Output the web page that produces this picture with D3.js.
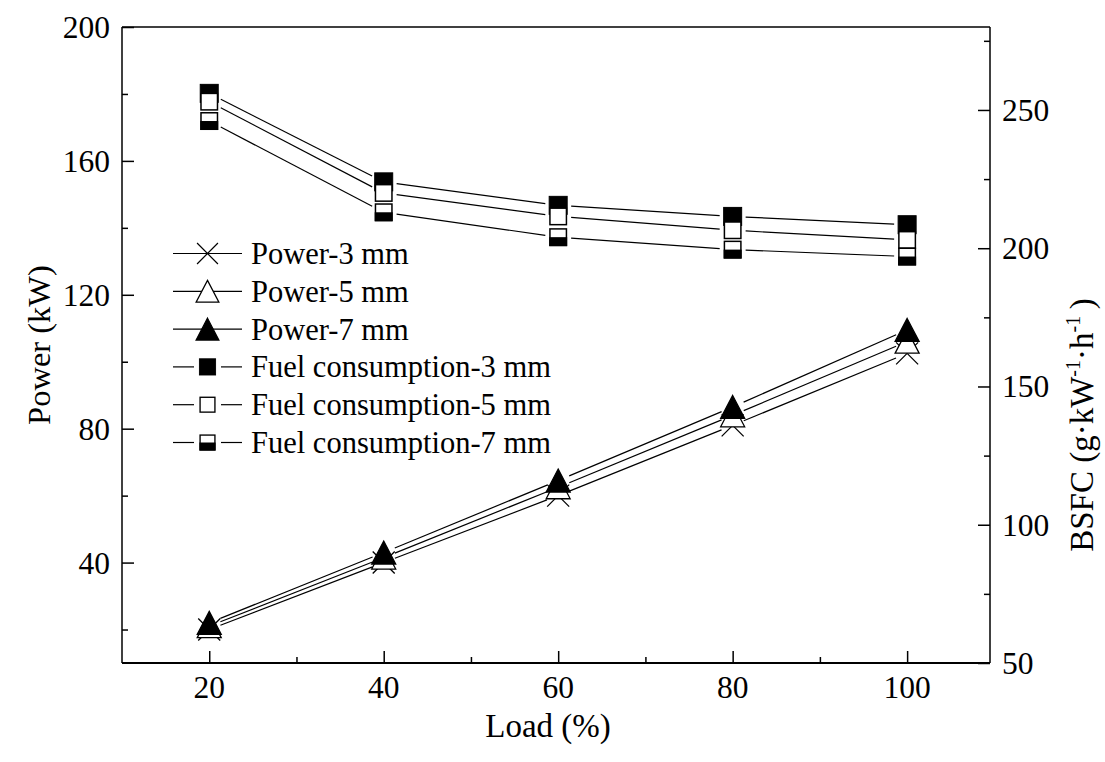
<!DOCTYPE html>
<html><head><meta charset="utf-8">
<script src="https://cdn.jsdelivr.net/npm/d3@7"></script>
<style>body{margin:0;background:#fff}svg{display:block}text{font-family:"Liberation Serif","Times New Roman",serif;fill:#000}</style>
</head><body>
<svg id="c" width="1105" height="762"></svg>
<script>
const loads = [20, 40, 60, 80, 100];
const power3 = [20, 40, 60, 81, 102.5];
const power5 = [21, 41.5, 62.5, 84, 106];
const power7 = [22, 43, 64.5, 86.5, 109.5];
const fuel3 = [256, 224, 215.5, 211.5, 208.5];
const fuel5 = [253, 220, 211.5, 206.5, 203];
const fuel7 = [246, 213, 204, 199.5, 197];
const xTicks = [20, 40, 60, 80, 100];
const yLeftTicks = [40, 80, 120, 160, 200];
const yRightTicks = [50, 100, 150, 200, 250];
const seriesNames = ["Power-3 mm","Power-5 mm","Power-7 mm","Fuel consumption-3 mm","Fuel consumption-5 mm","Fuel consumption-7 mm"];

const L = 122, R = 990, T = 27, B = 663;
const svg = d3.select("#c");
const x = d3.scaleLinear().domain([10, 109.5]).range([L, R]);
const yL = d3.scaleLinear().domain([10, 200]).range([B, T]);
const yR = d3.scaleLinear().domain([50, 280]).range([B, T]);
const FS = 31.5, FL = 30.5, FT = 33;

const series = [
  {vals: power3, y: yL, m: "cross", gap: 12},
  {vals: power5, y: yL, m: "triOpen", gap: 12},
  {vals: power7, y: yL, m: "triFill", gap: 12},
  {vals: fuel3, y: yR, m: "sqFill", gap: 13},
  {vals: fuel5, y: yR, m: "sqOpen", gap: 13},
  {vals: fuel7, y: yR, m: "sqHalf", gap: 13}
];

function drawMarker(g, type, cx, cy) {
  const s = g.append("g").attr("transform", `translate(${cx},${cy})`);
  if (type === "cross") {
    s.append("path").attr("d", "M-11,-11L11,11M-11,11L11,-11").attr("stroke", "#000").attr("stroke-width", 1.3).attr("fill", "none");
  } else if (type === "triOpen" || type === "triFill") {
    s.append("path").attr("d", "M0,-11.5L12,11.5L-12,11.5Z")
      .attr("fill", type === "triFill" ? "#000" : "#fff").attr("stroke", "#000").attr("stroke-width", 1.3);
  } else if (type === "sqFill") {
    s.append("rect").attr("x", -9).attr("y", -9).attr("width", 18).attr("height", 18).attr("fill", "#000").attr("stroke", "#000").attr("stroke-width", 1);
  } else if (type === "sqOpen") {
    s.append("rect").attr("x", -8.25).attr("y", -8.25).attr("width", 16.5).attr("height", 16.5).attr("fill", "#fff").attr("stroke", "#000").attr("stroke-width", 1.5);
  } else if (type === "sqHalf") {
    s.append("rect").attr("x", -9).attr("y", 0).attr("width", 18).attr("height", 9).attr("fill", "#000");
    s.append("rect").attr("x", -8.25).attr("y", -8.25).attr("width", 16.5).attr("height", 16.5).attr("fill", "none").attr("stroke", "#000").attr("stroke-width", 1.5);
  }
}

function stext(g, str, tx, ty, anchor, fs) {
  return g.append("text").attr("x", tx).attr("y", ty)
    .attr("text-anchor", anchor).attr("font-size", fs).text(str);
}

// frame
const fr = svg.append("g").attr("stroke", "#000").attr("fill", "none");
fr.append("line").attr("x1", L).attr("x2", R).attr("y1", T).attr("y2", T).attr("stroke-width", 1.5);
fr.append("line").attr("x1", L).attr("x2", R).attr("y1", B).attr("y2", B).attr("stroke-width", 2);
fr.append("line").attr("x1", L).attr("x2", L).attr("y1", T).attr("y2", B).attr("stroke-width", 1.5);
fr.append("line").attr("x1", R).attr("x2", R).attr("y1", T).attr("y2", B).attr("stroke-width", 1.5);

// axes (ticks inward)
svg.append("g").attr("transform", `translate(0,${B})`)
  .call(d3.axisBottom(x).tickValues(xTicks).tickSize(-12).tickFormat(""));
svg.append("g").attr("transform", `translate(0,${B})`)
  .call(d3.axisBottom(x).tickValues([30, 50, 70, 90]).tickSize(-6).tickFormat(""));
svg.append("g").attr("transform", `translate(${L},0)`)
  .call(d3.axisLeft(yL).tickValues(yLeftTicks).tickSize(-12).tickFormat(""));
svg.append("g").attr("transform", `translate(${L},0)`)
  .call(d3.axisLeft(yL).tickValues([20, 60, 100, 140, 180]).tickSize(-6).tickFormat(""));
svg.append("g").attr("transform", `translate(${R},0)`)
  .call(d3.axisRight(yR).tickValues(yRightTicks).tickSize(-12).tickFormat(""));
svg.append("g").attr("transform", `translate(${R},0)`)
  .call(d3.axisRight(yR).tickValues([75, 125, 175, 225, 275]).tickSize(-6).tickFormat(""));
svg.selectAll(".domain").remove();
svg.selectAll(".tick line").attr("stroke", "#000").attr("stroke-width", 1.5);

const lab = svg.append("g");
xTicks.forEach(v => stext(lab, v, x(v), 698, "middle", FS));
yLeftTicks.forEach(v => stext(lab, v, 110, yL(v) + 11, "end", FS));
yRightTicks.forEach(v => stext(lab, v, 1002, yR(v) + 11, "start", FS));

stext(lab, "Load (%)", 548, 737, "middle", FT);
lab.append("text").attr("transform", "translate(50,345) rotate(-90)").attr("text-anchor", "middle").attr("font-size", 32.5).text("Power (kW)");
const bt = lab.append("text").attr("transform", "translate(1093,425) rotate(-90)").attr("text-anchor", "middle").attr("font-size", FT);
bt.append("tspan").text("BSFC (g·kW");
bt.append("tspan").attr("font-size", 20).attr("dy", -13).text("-1");
bt.append("tspan").attr("dy", 13).text("·h");
bt.append("tspan").attr("font-size", 20).attr("dy", -13).text("-1");
bt.append("tspan").attr("dy", 13).text("\u2009)");

// lines with gaps at markers
const lg = svg.append("g").attr("stroke", "#000").attr("stroke-width", 1.2).attr("fill", "none");
series.forEach(s => {
  const pts = loads.map((l, i) => [x(l), s.y(s.vals[i])]);
  for (let i = 0; i < pts.length - 1; i++) {
    const [x1, y1] = pts[i], [x2, y2] = pts[i + 1];
    const d = Math.hypot(x2 - x1, y2 - y1), ux = (x2 - x1) / d, uy = (y2 - y1) / d;
    lg.append("line").attr("x1", x1 + ux * s.gap).attr("y1", y1 + uy * s.gap)
      .attr("x2", x2 - ux * s.gap).attr("y2", y2 - uy * s.gap);
  }
});

// markers
const mg = svg.append("g");
series.forEach(s => {
  loads.forEach((l, i) => drawMarker(mg, s.m, x(l), s.y(s.vals[i])));
});

// legend
const leg = svg.append("g");
seriesNames.forEach((name, i) => {
  const cy = 253.5 + i * 37.8;
  const isPow = i < 3;
  if (isPow) {
    leg.append("line").attr("x1", 173).attr("x2", 242).attr("y1", cy).attr("y2", cy).attr("stroke", "#000").attr("stroke-width", 1.2);
  } else {
    leg.append("line").attr("x1", 173).attr("x2", 194).attr("y1", cy).attr("y2", cy).attr("stroke", "#000").attr("stroke-width", 1.2);
    leg.append("line").attr("x1", 221).attr("x2", 242).attr("y1", cy).attr("y2", cy).attr("stroke", "#000").attr("stroke-width", 1.2);
  }
  const m = series[i].m;
  const g2 = leg.append("g").attr("transform", `translate(207.5,${cy}) scale(${isPow ? 0.95 : 0.9})`);
  drawMarker(g2, m, 0, 0);
  stext(leg, name, 251, cy + 10.5, "start", FL);
});
</script>
</body></html>
